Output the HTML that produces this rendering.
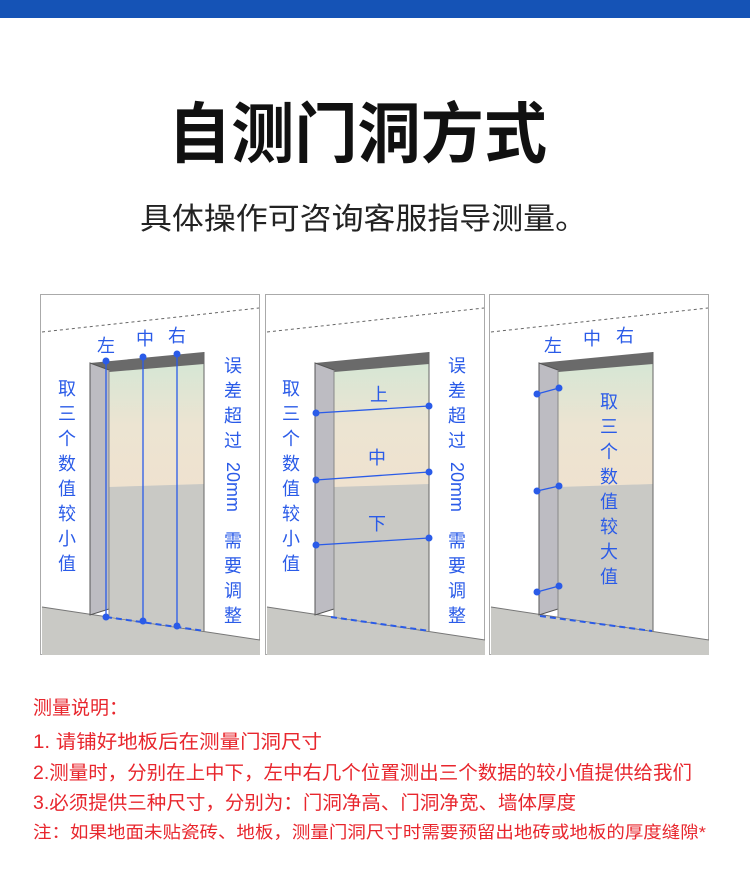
<!DOCTYPE html>
<html><head><meta charset="utf-8"><style>
html,body{margin:0;padding:0;background:#fff;}
svg{display:block;}
text{font-family:"Liberation Sans","Noto Sans CJK SC",sans-serif;}
</style></head><body>
<svg width="750" height="875" viewBox="0 0 750 875" xmlns="http://www.w3.org/2000/svg">
<defs>
<linearGradient id="dg" x1="0" y1="0" x2="0" y2="1">
<stop offset="0" stop-color="#d6e6d4"/><stop offset="0.5" stop-color="#ece4d2"/><stop offset="1" stop-color="#efe2cf"/>
</linearGradient>
<g id="door">
<polygon points="2,313 220,346 220,361 2,361" fill="#c9c9c5"/>
<line x1="2" y1="313" x2="220" y2="346" stroke="#777" stroke-width="1"/>
<polygon points="69,76 164,70 164,337 69,323" fill="#c9c9c5"/>
<polygon points="69,76 164,70 164,190 69,193" fill="url(#dg)"/>
<polygon points="50,69 164,58 164,70 69,78" fill="#6a6a6a"/>
<polygon points="50,69 69,76 69,315 50,321" fill="#bdbcc2" stroke="#555" stroke-width="1"/>
<line x1="164" y1="58" x2="164" y2="337" stroke="#666"/>
<line x1="69" y1="76" x2="69" y2="323" stroke="#888"/>
</g>
</defs>
<rect x="0" y="0" width="750" height="18" fill="#1553b6"/>
<text x="168" y="157" font-size="66" font-weight="bold" fill="#111" textLength="379" lengthAdjust="spacingAndGlyphs">自测门洞方式</text>
<text x="140" y="229" font-size="30" fill="#222" textLength="447" lengthAdjust="spacingAndGlyphs">具体操作可咨询客服指导测量。</text>

<g transform="translate(40,294)">
<rect x="0.5" y="0.5" width="219" height="360" fill="#fff" stroke="#aaa"/>
<line x1="2" y1="38" x2="219" y2="14" stroke="#666" stroke-dasharray="3,3"/>
<use href="#door"/>
</g>
<g transform="translate(265,294)">
<rect x="0.5" y="0.5" width="219" height="360" fill="#fff" stroke="#aaa"/>
<line x1="2" y1="38" x2="219" y2="14" stroke="#666" stroke-dasharray="3,3"/>
<use href="#door"/>
</g>
<g transform="translate(489,294)">
<rect x="0.5" y="0.5" width="219" height="360" fill="#fff" stroke="#aaa"/>
<line x1="2" y1="38" x2="219" y2="14" stroke="#666" stroke-dasharray="3,3"/>
<use href="#door"/>
</g>

<g fill="#2a5be8" stroke="none" font-size="18">
<g stroke="#2a5be8" stroke-width="1.3">
<line x1="106" y1="361" x2="106" y2="617"/><line x1="143" y1="357" x2="143" y2="621"/><line x1="177" y1="354" x2="177" y2="626"/>
<line x1="106" y1="617" x2="205" y2="631" stroke-dasharray="6,4" stroke-width="2"/>
</g>
<circle cx="106" cy="361" r="3.5"/><circle cx="143" cy="357" r="3.5"/><circle cx="177" cy="354" r="3.5"/>
<circle cx="106" cy="617" r="3.5"/><circle cx="143" cy="621" r="3.5"/><circle cx="177" cy="626" r="3.5"/>
<text x="106" y="352" text-anchor="middle">左</text><text x="145" y="345" text-anchor="middle">中</text><text x="177" y="342" text-anchor="middle">右</text>
<g text-anchor="middle">
<text x="67" y="395">取</text><text x="67" y="420">三</text><text x="67" y="445">个</text><text x="67" y="470">数</text><text x="67" y="495">值</text><text x="67" y="520">较</text><text x="67" y="545">小</text><text x="67" y="570">值</text>
<text x="233" y="372">误</text><text x="233" y="397">差</text><text x="233" y="422">超</text><text x="233" y="447">过</text>
<text transform="translate(227,462) rotate(90)" text-anchor="start">20mm</text>
<text x="233" y="547">需</text><text x="233" y="572">要</text><text x="233" y="597">调</text><text x="233" y="622">整</text>
</g>
<g stroke="#2a5be8" stroke-width="1.3">
<line x1="316" y1="413" x2="429" y2="406"/><line x1="316" y1="480" x2="429" y2="472"/><line x1="316" y1="545" x2="429" y2="538"/>
<line x1="331" y1="617" x2="430" y2="631" stroke-dasharray="6,4" stroke-width="2"/>
</g>
<circle cx="316" cy="413" r="3.5"/><circle cx="429" cy="406" r="3.5"/><circle cx="316" cy="480" r="3.5"/><circle cx="429" cy="472" r="3.5"/><circle cx="316" cy="545" r="3.5"/><circle cx="429" cy="538" r="3.5"/>
<g text-anchor="middle">
<text x="379" y="401">上</text><text x="377" y="464">中</text><text x="377" y="530">下</text>
<text x="291" y="395">取</text><text x="291" y="420">三</text><text x="291" y="445">个</text><text x="291" y="470">数</text><text x="291" y="495">值</text><text x="291" y="520">较</text><text x="291" y="545">小</text><text x="291" y="570">值</text>
<text x="457" y="372">误</text><text x="457" y="397">差</text><text x="457" y="422">超</text><text x="457" y="447">过</text>
<text transform="translate(451,462) rotate(90)" text-anchor="start">20mm</text>
<text x="457" y="547">需</text><text x="457" y="572">要</text><text x="457" y="597">调</text><text x="457" y="622">整</text>
</g>
<g stroke="#2a5be8" stroke-width="1.3">
<line x1="537" y1="394" x2="559" y2="388"/><line x1="537" y1="491" x2="559" y2="486"/><line x1="537" y1="592" x2="559" y2="586"/>
<line x1="540" y1="616" x2="652" y2="631" stroke-dasharray="6,4" stroke-width="2"/>
</g>
<circle cx="537" cy="394" r="3.5"/><circle cx="559" cy="388" r="3.5"/><circle cx="537" cy="491" r="3.5"/><circle cx="559" cy="486" r="3.5"/><circle cx="537" cy="592" r="3.5"/><circle cx="559" cy="586" r="3.5"/>
<g text-anchor="middle">
<text x="553" y="352">左</text><text x="592" y="345">中</text><text x="625" y="342">右</text>
<text x="609" y="408">取</text><text x="609" y="433">三</text><text x="609" y="458">个</text><text x="609" y="483">数</text><text x="609" y="508">值</text><text x="609" y="533">较</text><text x="609" y="558">大</text><text x="609" y="583">值</text>
</g>
</g>

<g fill="#e8262d">
<text x="33" y="714" font-size="19">测量说明：</text>
<text x="33" y="748" font-size="19" textLength="289" lengthAdjust="spacingAndGlyphs">1. 请铺好地板后在测量门洞尺寸</text>
<text x="33" y="779" font-size="19" textLength="659" lengthAdjust="spacingAndGlyphs">2.测量时，分别在上中下，左中右几个位置测出三个数据的较小值提供给我们</text>
<text x="33" y="809" font-size="19" textLength="543" lengthAdjust="spacingAndGlyphs">3.必须提供三种尺寸，分别为：门洞净高、门洞净宽、墙体厚度</text>
<text x="33" y="838" font-size="17" textLength="673" lengthAdjust="spacingAndGlyphs">注：如果地面未贴瓷砖、地板，测量门洞尺寸时需要预留出地砖或地板的厚度缝隙*</text>
</g>
</svg>
</body></html>
